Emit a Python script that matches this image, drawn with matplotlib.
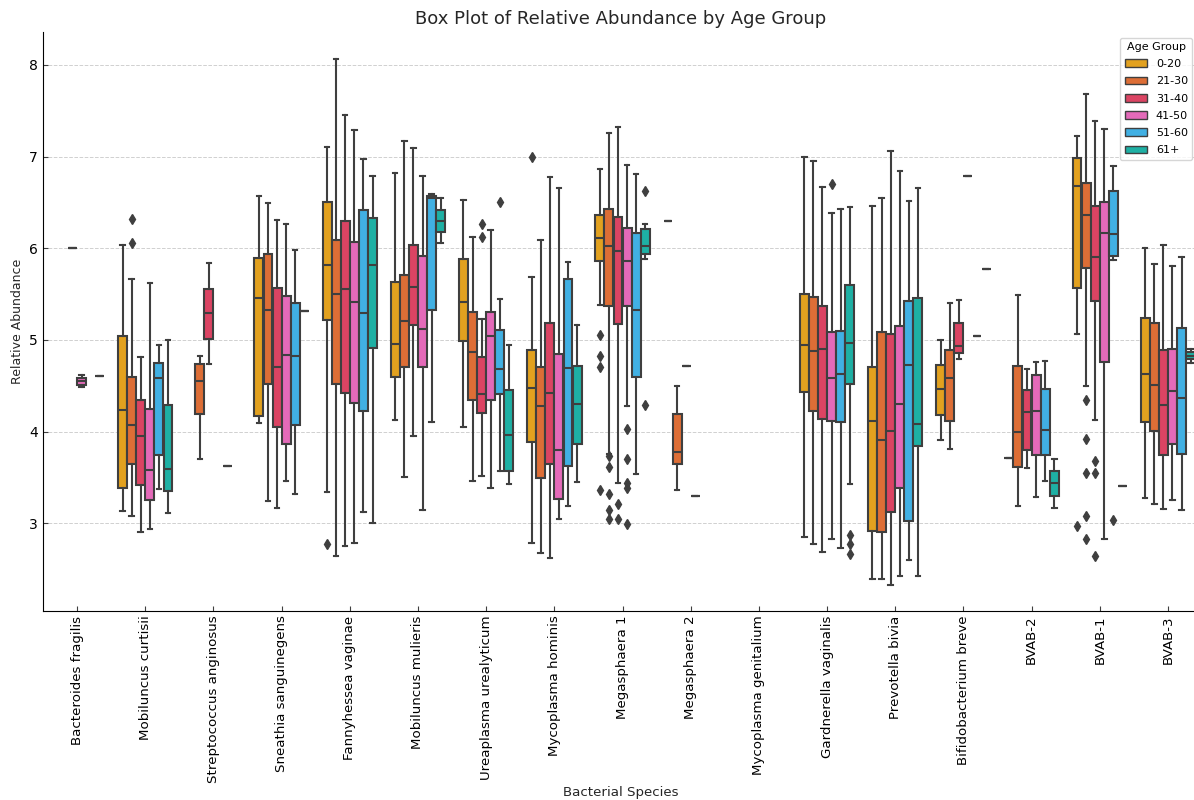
import numpy as np
import matplotlib
matplotlib.use("Agg")
import matplotlib.pyplot as plt
from matplotlib.patches import Patch

species = ["Bacteroides fragilis", "Mobiluncus curtisii", "Streptococcus anginosus",
           "Sneathia sanguinegens", "Fannyhessea vaginae", "Mobiluncus mulieris",
           "Ureaplasma urealyticum", "Mycoplasma hominis", "Megasphaera 1",
           "Megasphaera 2", "Mycoplasma genitalium", "Gardnerella vaginalis",
           "Prevotella bivia", "Bifidobacterium breve", "BVAB-2", "BVAB-1", "BVAB-3"]
age_groups = ["0-20", "21-30", "31-40", "41-50", "51-60", "61+"]
colors = ["#E2A11F", "#DD6E36", "#DB4463", "#E46AB9", "#41B0E3", "#1EB0A4"]

N = None
# box stats per species (rows) and age group (cols); None = no box
q1 = [
    [N, N, N, 4.51, N, N],
    [3.38, 3.65, 3.42, 3.25, 3.75, 3.35],
    [N, 4.19, 5.01, N, N, N],
    [4.17, 4.52, 4.05, 3.86, 4.07, N],
    [5.22, 4.52, 4.42, 4.31, 4.22, 4.91],
    [4.60, 4.70, 5.16, 4.70, 5.33, 6.18],
    [4.99, 4.34, 4.20, 4.34, 4.41, 3.57],
    [3.89, 3.49, 3.65, 3.26, 3.62, 3.87],
    [5.86, 5.37, 5.17, 5.37, 4.60, 5.94],
    [N, 3.65, N, N, N, N],
    [N, N, N, N, N, N],
    [4.43, 4.22, 4.14, 4.12, 4.11, 4.52],
    [2.92, 2.91, 3.12, 3.38, 3.03, 3.84],
    [4.18, 4.12, 4.86, N, N, N],
    [N, 3.61, 3.80, 3.74, 3.74, 3.30],
    [5.57, 5.79, 5.42, 4.76, 5.92, N],
    [4.10, 4.01, 3.75, 3.87, 3.76, 4.79],
]
med = [
    [N, N, N, 4.55, N, N],
    [4.24, 4.07, 3.95, 3.58, 4.59, 3.59],
    [N, 4.55, 5.29, N, N, N],
    [5.46, 5.33, 4.70, 4.84, 4.82, N],
    [5.82, 5.50, 5.56, 5.41, 5.29, 5.82],
    [4.96, 5.21, 5.58, 5.12, 6.55, 6.30],
    [5.41, 4.87, 4.41, 5.04, 4.68, 3.96],
    [4.48, 4.28, 4.42, 3.80, 4.69, 4.30],
    [6.11, 6.03, 5.97, 5.86, 5.33, 6.03],
    [N, 3.78, N, N, N, N],
    [N, N, N, N, N, N],
    [4.94, 4.88, 4.90, 4.58, 4.63, 4.97],
    [4.12, 3.91, 4.01, 4.30, 4.73, 4.08],
    [4.46, 4.59, 4.93, N, N, N],
    [N, 4.00, 4.21, 4.23, 4.02, 3.44],
    [6.68, 6.36, 5.91, 6.17, 6.16, N],
    [4.63, 4.51, 4.29, 4.44, 4.37, 4.83],
]
q3 = [
    [N, N, N, 4.59, N, N],
    [5.04, 4.60, 4.34, 4.25, 4.75, 4.29],
    [N, 4.74, 5.56, N, N, N],
    [5.89, 5.94, 5.57, 5.48, 5.40, N],
    [6.51, 6.09, 6.30, 6.07, 6.42, 6.33],
    [5.63, 5.71, 6.04, 5.92, 6.57, 6.42],
    [5.88, 5.31, 4.81, 5.30, 5.11, 4.45],
    [4.89, 4.70, 5.18, 4.85, 5.67, 4.72],
    [6.36, 6.43, 6.34, 6.22, 6.17, 6.21],
    [N, 4.19, N, N, N, N],
    [N, N, N, N, N, N],
    [5.50, 5.47, 5.37, 5.09, 5.10, 5.60],
    [4.71, 5.09, 5.06, 5.15, 5.42, 5.46],
    [4.73, 4.89, 5.19, N, N, N],
    [N, 4.72, 4.45, 4.62, 4.47, 3.57],
    [6.99, 6.71, 6.46, 6.50, 6.62, N],
    [5.24, 5.18, 4.89, 4.90, 5.13, 4.87],
]
whis_lo = [
    [N, N, N, 4.49, N, N],
    [3.13, 3.08, 2.91, 2.94, 3.37, 3.11],
    [N, 3.70, 4.74, N, N, N],
    [4.09, 3.24, 3.17, 3.46, 3.32, N],
    [3.34, 2.64, 2.75, 2.78, 3.12, 3.00],
    [4.13, 3.51, 3.95, 3.15, 4.11, 6.06],
    [4.05, 3.46, 3.52, 3.39, 3.57, 3.43],
    [2.79, 2.68, 2.62, 3.05, 3.19, 3.45],
    [5.38, 3.76, 3.44, 4.28, 3.54, 5.88],
    [N, 3.36, N, N, N, N],
    [N, N, N, N, N, N],
    [2.85, 2.77, 2.69, 2.83, 2.73, 3.43],
    [2.39, 2.39, 2.33, 2.42, 2.60, 2.43],
    [3.91, 3.81, 4.79, N, N, N],
    [N, 3.19, 3.60, 3.29, 3.46, 3.17],
    [5.06, 4.50, 4.13, 2.83, 5.87, N],
    [3.28, 3.21, 3.16, 3.25, 3.15, 4.75],
]
whis_hi = [
    [N, N, N, 4.62, N, N],
    [6.04, 5.67, 4.81, 5.62, 4.95, 5.00],
    [N, 4.82, 5.84, N, N, N],
    [6.57, 6.49, 6.31, 6.26, 5.98, N],
    [7.10, 8.07, 7.45, 7.29, 6.97, 6.79],
    [6.82, 7.17, 7.09, 6.79, 6.59, 6.55],
    [6.53, 6.12, 5.23, 6.20, 5.45, 4.95],
    [5.69, 6.09, 6.78, 6.66, 5.85, 5.16],
    [6.87, 7.26, 7.32, 6.91, 6.81, 6.26],
    [N, 4.50, N, N, N, N],
    [N, N, N, N, N, N],
    [7.00, 6.95, 6.67, 6.39, 6.43, 6.45],
    [6.46, 6.55, 7.06, 6.84, 6.52, 6.66],
    [5.00, 5.40, 5.44, N, N, N],
    [N, 5.49, 4.68, 4.76, 4.77, 3.70],
    [7.22, 7.68, 7.39, 7.30, 6.90, N],
    [6.00, 5.83, 6.04, 5.81, 5.90, 4.90],
]
# groups with a single observation: (species, age group) -> value
singles = {
    (0, 2): 6.00, (0, 5): 4.61,
    (2, 4): 3.62,
    (3, 5): 5.32,
    (9, 0): 6.30, (9, 2): 4.72, (9, 3): 3.30,
    (13, 3): 6.79, (13, 4): 5.04, (13, 5): 5.77,
    (14, 0): 3.71,
    (15, 5): 3.41,
}
outliers = {
    (1, 1): [6.32, 6.06],
    (4, 0): [2.77],
    (6, 2): [6.27, 6.12],
    (6, 4): [6.50],
    (7, 0): [7.00],
    (8, 0): [5.05, 4.83, 4.70, 3.36],
    (8, 1): [3.73, 3.61, 3.32, 3.15, 3.05],
    (8, 2): [3.21, 3.05],
    (8, 3): [4.03, 3.70, 3.44, 3.39, 2.99],
    (8, 5): [6.63, 4.29],
    (11, 3): [6.70],
    (11, 5): [2.87, 2.77, 2.67],
    (15, 0): [2.97],
    (15, 1): [4.34, 3.92, 3.55, 3.08, 2.83],
    (15, 2): [3.68, 3.55, 2.64],
    (15, 4): [3.04],
}

line_col = "#3f3f3f"
n_hue = len(age_groups)
slot = 0.8 / n_hue
offsets = (np.arange(n_hue) - (n_hue - 1) / 2) * slot

fig = plt.figure(figsize=(11.94, 8.0), dpi=100)
ax = fig.add_axes([0.036, 0.2366, 0.9673, 0.7234])
ax.set_axisbelow(True)
ax.grid(axis="y", linestyle="--", color="#d0d0d0", linewidth=0.7)

for h, grp in enumerate(age_groups):
    stats, pos = [], []
    for s in range(len(species)):
        if (s, h) in singles:
            v = singles[(s, h)]
            st = dict(q1=v, med=v, q3=v, whislo=v, whishi=v, fliers=[])
        elif q1[s][h] is not None:
            st = dict(q1=q1[s][h], med=med[s][h], q3=q3[s][h],
                      whislo=whis_lo[s][h], whishi=whis_hi[s][h],
                      fliers=outliers.get((s, h), []))
        else:
            continue
        stats.append(st)
        pos.append(s + offsets[h])
    ax.bxp(stats, positions=pos, widths=slot * 0.98, patch_artist=True,
           showfliers=True, manage_ticks=False,
           boxprops=dict(facecolor=colors[h], edgecolor=line_col, linewidth=1.5),
           medianprops=dict(color=line_col, linewidth=1.5),
           whiskerprops=dict(color=line_col, linewidth=1.5),
           capprops=dict(color=line_col, linewidth=1.5),
           flierprops=dict(marker="d", markerfacecolor=line_col,
                           markeredgecolor=line_col, markersize=5))

ax.set_xticks(range(len(species)))
ax.set_xticklabels(species, rotation=90, fontsize=9.6)
ax.tick_params(axis="both", direction="in", length=3.5, color=line_col)
ax.tick_params(axis="y", labelsize=10)
ax.set_xlim(-0.5, 16.44)
ax.set_ylim(2.046, 8.36)
ax.set_yticks([3, 4, 5, 6, 7, 8])
ax.spines["top"].set_visible(False)
ax.spines["right"].set_visible(False)

ax.set_title("Box Plot of Relative Abundance by Age Group", fontsize=13, color="#262626")
ax.set_xlabel("Bacterial Species", fontsize=9.6, color="#262626", labelpad=2)
ax.set_ylabel("Relative Abundance", fontsize=9, color="#262626")

handles = [Patch(facecolor=c, edgecolor=line_col, linewidth=1.0, label=g)
           for c, g in zip(colors, age_groups)]
ax.legend(handles=handles, title="Age Group", loc="upper right",
          fontsize=8, title_fontsize=8, labelspacing=0.65)

fig.savefig("out.png", dpi=100)
